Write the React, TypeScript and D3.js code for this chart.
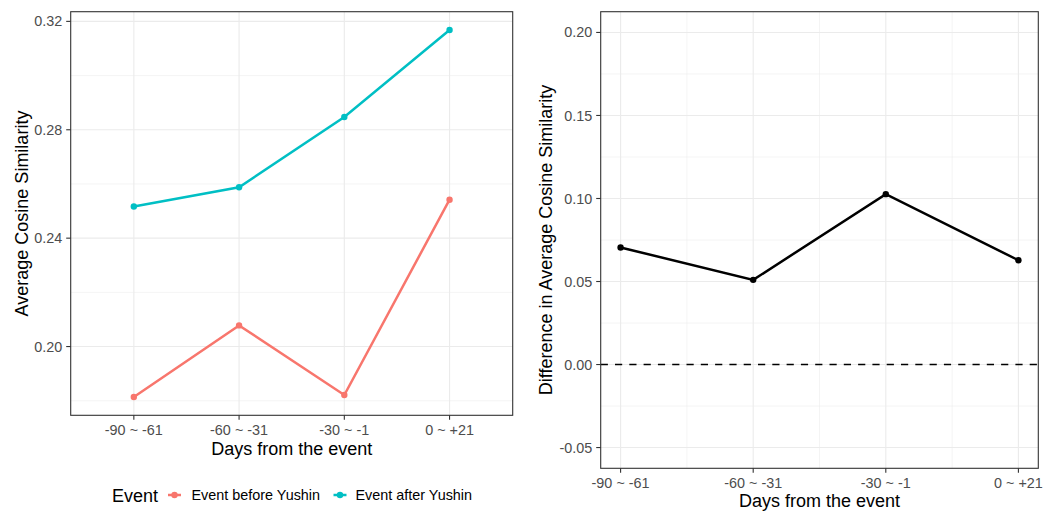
import React from "react";
import * as d3 from "d3";

// Time windows relative to the event
const periods = ["-90 ~ -61", "-60 ~ -31", "-30 ~ -1", "0 ~ +21"];

// Average cosine similarity by event group
const beforeYushin = [0.1814, 0.2078, 0.1821, 0.2542];
const afterYushin = [0.2517, 0.2588, 0.2847, 0.3168];

// Difference (after - before)
const difference = [0.0705, 0.051, 0.1026, 0.0628];

const leftTicks = [0.2, 0.24, 0.28, 0.32];
const leftMinor = [0.18, 0.22, 0.26, 0.3];
const rightTicks = [-0.05, 0, 0.05, 0.1, 0.15, 0.2];
const rightMinor = [-0.025, 0.025, 0.075, 0.125, 0.175];
const rightDomain = [-0.05, 0.2];

const seriesNames = ["Event before Yushin", "Event after Yushin"];
const seriesColors = ["#F8766D", "#00BFC4"];

const FONT = "'Liberation Sans', Arial, Helvetica, sans-serif";
const GRID = "#EBEBEB";
const BORDER = "#333333";
const TICKTXT = "#4D4D4D";

export default function App() {
  const W = 1046;
  const H = 512;

  // ---- left panel ----
  const L = { x0: 70.7, x1: 512.7, y0: 11.7, y1: 415.3 };
  const allLeft = [...beforeYushin, ...afterYushin];
  const [lmin, lmax] = d3.extent(allLeft) as [number, number];
  const lpad = (lmax - lmin) * 0.05;
  const xL = d3.scalePoint<string>().domain(periods).range([L.x0, L.x1]).padding(0.6);
  const yL = d3.scaleLinear().domain([lmin - lpad, lmax + lpad]).range([L.y1, L.y0]);
  const lineL = d3
    .line<number>()
    .x((_, i) => xL(periods[i]) as number)
    .y((d) => yL(d));

  // ---- right panel ----
  const R = { x0: 600.7, x1: 1038.3, y0: 11.7, y1: 468.3 };
  const rpad = (rightDomain[1] - rightDomain[0]) * 0.05;
  const xR = d3.scalePoint<string>().domain(periods).range([R.x0, R.x1]).padding(0.15);
  const yR = d3.scaleLinear().domain([rightDomain[0] - rpad, rightDomain[1] + rpad]).range([R.y1, R.y0]);
  const lineR = d3
    .line<number>()
    .x((_, i) => xR(periods[i]) as number)
    .y((d) => yR(d));
  const stepR = xR.step();
  const rightMinorX = periods.slice(0, -1).map((p) => (xR(p) as number) + stepR / 2);

  const series = [beforeYushin, afterYushin];

  // legend layout
  const legendY = 495;
  const legendItems = [
    { key: 174.5, text: 191.5 },
    { key: 340, text: 355.5 },
  ];

  return (
    <svg
      width={W}
      height={H}
      style={{ position: "absolute", left: 0, top: 0, display: "block", background: "#fff" }}
      fontFamily={FONT}
    >
      <rect x={0} y={0} width={W} height={H} fill="#fff" />

      {/* ===== Left panel ===== */}
      <g>
        {leftMinor.map((v) => (
          <line key={"lm" + v} x1={L.x0} x2={L.x1} y1={yL(v)} y2={yL(v)} stroke={GRID} strokeWidth={0.55} />
        ))}
        {leftTicks.map((v) => (
          <line key={"lg" + v} x1={L.x0} x2={L.x1} y1={yL(v)} y2={yL(v)} stroke={GRID} strokeWidth={1.1} />
        ))}
        {periods.map((p) => (
          <line key={"lv" + p} x1={xL(p)} x2={xL(p)} y1={L.y0} y2={L.y1} stroke={GRID} strokeWidth={1.1} />
        ))}

        {series.map((s, si) => (
          <g key={"s" + si}>
            <path d={lineL(s) || ""} fill="none" stroke={seriesColors[si]} strokeWidth={2.5} />
            {s.map((v, i) => (
              <circle key={i} cx={xL(periods[i])} cy={yL(v)} r={3.2} fill={seriesColors[si]} />
            ))}
          </g>
        ))}

        <rect x={L.x0} y={L.y0} width={L.x1 - L.x0} height={L.y1 - L.y0} fill="none" stroke={BORDER} strokeWidth={1.1} />

        {leftTicks.map((v) => (
          <g key={"lt" + v}>
            <line x1={L.x0 - 4.5} x2={L.x0} y1={yL(v)} y2={yL(v)} stroke={BORDER} strokeWidth={1.1} />
            <text x={L.x0 - 8.5} y={yL(v)} dy="0.35em" textAnchor="end" fontSize={14.4} fill={TICKTXT}>
              {v.toFixed(2)}
            </text>
          </g>
        ))}
        {periods.map((p) => (
          <g key={"lx" + p}>
            <line x1={xL(p)} x2={xL(p)} y1={L.y1} y2={L.y1 + 4.5} stroke={BORDER} strokeWidth={1.1} />
            <text x={xL(p)} y={434.5} textAnchor="middle" fontSize={14.4} fill={TICKTXT}>
              {p}
            </text>
          </g>
        ))}
        <text x={(L.x0 + L.x1) / 2} y={455} textAnchor="middle" fontSize={18} fill="#000">
          Days from the event
        </text>
        <text
          transform={`translate(27.5,${(L.y0 + L.y1) / 2}) rotate(-90)`}
          textAnchor="middle"
          fontSize={18}
          fill="#000"
        >
          Average Cosine Similarity
        </text>

        {/* legend */}
        <text x={112} y={legendY + 6.5} fontSize={18} fill="#000">
          Event
        </text>
        {seriesNames.map((name, i) => (
          <g key={"lg" + name}>
            <line
              x1={legendItems[i].key - 6.5}
              x2={legendItems[i].key + 6.5}
              y1={legendY}
              y2={legendY}
              stroke={seriesColors[i]}
              strokeWidth={2.5}
            />
            <circle cx={legendItems[i].key} cy={legendY} r={3.2} fill={seriesColors[i]} />
            <text x={legendItems[i].text} y={legendY + 5} fontSize={14.4} fill="#000">
              {name}
            </text>
          </g>
        ))}
      </g>

      {/* ===== Right panel ===== */}
      <g>
        {rightMinor.map((v) => (
          <line key={"rm" + v} x1={R.x0} x2={R.x1} y1={yR(v)} y2={yR(v)} stroke={GRID} strokeWidth={0.55} />
        ))}
        {rightMinorX.map((x, i) => (
          <line key={"rmx" + i} x1={x} x2={x} y1={R.y0} y2={R.y1} stroke={GRID} strokeWidth={0.55} />
        ))}
        {rightTicks.map((v) => (
          <line key={"rg" + v} x1={R.x0} x2={R.x1} y1={yR(v)} y2={yR(v)} stroke={GRID} strokeWidth={1.1} />
        ))}
        {periods.map((p) => (
          <line key={"rv" + p} x1={xR(p)} x2={xR(p)} y1={R.y0} y2={R.y1} stroke={GRID} strokeWidth={1.1} />
        ))}

        <line
          x1={R.x0}
          x2={R.x1}
          y1={yR(0)}
          y2={yR(0)}
          stroke="#000"
          strokeWidth={1.6}
          strokeDasharray="7.2,7.1"
        />

        <path d={lineR(difference) || ""} fill="none" stroke="#000" strokeWidth={2.5} />
        {difference.map((v, i) => (
          <circle key={"rp" + i} cx={xR(periods[i])} cy={yR(v)} r={3.2} fill="#000" />
        ))}

        <rect x={R.x0} y={R.y0} width={R.x1 - R.x0} height={R.y1 - R.y0} fill="none" stroke={BORDER} strokeWidth={1.1} />

        {rightTicks.map((v) => (
          <g key={"rt" + v}>
            <line x1={R.x0 - 4.5} x2={R.x0} y1={yR(v)} y2={yR(v)} stroke={BORDER} strokeWidth={1.1} />
            <text x={R.x0 - 8.5} y={yR(v)} dy="0.35em" textAnchor="end" fontSize={14.4} fill={TICKTXT}>
              {v.toFixed(2)}
            </text>
          </g>
        ))}
        {periods.map((p) => (
          <g key={"rx" + p}>
            <line x1={xR(p)} x2={xR(p)} y1={R.y1} y2={R.y1 + 4.5} stroke={BORDER} strokeWidth={1.1} />
            <text x={xR(p)} y={487.8} textAnchor="middle" fontSize={14.4} fill={TICKTXT}>
              {p}
            </text>
          </g>
        ))}
        <text x={(R.x0 + R.x1) / 2} y={506.5} textAnchor="middle" fontSize={18} fill="#000">
          Days from the event
        </text>
        <text
          transform={`translate(551.5,${(R.y0 + R.y1) / 2}) rotate(-90)`}
          textAnchor="middle"
          fontSize={18}
          fill="#000"
        >
          Difference in Average Cosine Similarity
        </text>
      </g>
    </svg>
  );
}
